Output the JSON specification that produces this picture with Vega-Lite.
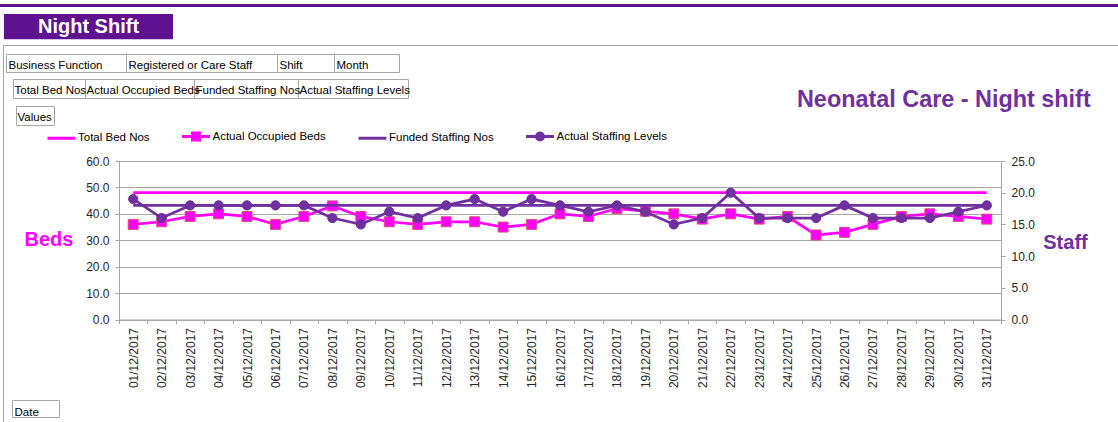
{
  "$schema": "https://vega.github.io/schema/vega-lite/v6.json",
  "autosize": {"type": "none"},
  "width": 882,
  "height": 158.5,
  "padding": {"left": 119, "top": 161, "right": 117, "bottom": 102.5},
  "background": "white",
  "config": {"view": {"stroke": null}, "font": "Liberation Sans"},
  "title": {"text": "Neonatal Care - Night shift", "anchor": "end", "frame": "group", "font": "Liberation Sans", "fontSize": 23.4, "fontWeight": "bold", "color": "#7030a0", "dx": 89.7, "dy": 141, "offset": 15, "baseline": "alphabetic"},
  "data": {"values": [
    {"date": "01/12/2017", "total": 48, "occupied": 36, "funded": 18, "actual": 19},
    {"date": "02/12/2017", "total": 48, "occupied": 37, "funded": 18, "actual": 16},
    {"date": "03/12/2017", "total": 48, "occupied": 39, "funded": 18, "actual": 18},
    {"date": "04/12/2017", "total": 48, "occupied": 40, "funded": 18, "actual": 18},
    {"date": "05/12/2017", "total": 48, "occupied": 39, "funded": 18, "actual": 18},
    {"date": "06/12/2017", "total": 48, "occupied": 36, "funded": 18, "actual": 18},
    {"date": "07/12/2017", "total": 48, "occupied": 39, "funded": 18, "actual": 18},
    {"date": "08/12/2017", "total": 48, "occupied": 43, "funded": 18, "actual": 16},
    {"date": "09/12/2017", "total": 48, "occupied": 39, "funded": 18, "actual": 15},
    {"date": "10/12/2017", "total": 48, "occupied": 37, "funded": 18, "actual": 17},
    {"date": "11/12/2017", "total": 48, "occupied": 36, "funded": 18, "actual": 16},
    {"date": "12/12/2017", "total": 48, "occupied": 37, "funded": 18, "actual": 18},
    {"date": "13/12/2017", "total": 48, "occupied": 37, "funded": 18, "actual": 19},
    {"date": "14/12/2017", "total": 48, "occupied": 35, "funded": 18, "actual": 17},
    {"date": "15/12/2017", "total": 48, "occupied": 36, "funded": 18, "actual": 19},
    {"date": "16/12/2017", "total": 48, "occupied": 40, "funded": 18, "actual": 18},
    {"date": "17/12/2017", "total": 48, "occupied": 39, "funded": 18, "actual": 17},
    {"date": "18/12/2017", "total": 48, "occupied": 42, "funded": 18, "actual": 18},
    {"date": "19/12/2017", "total": 48, "occupied": 41, "funded": 18, "actual": 17},
    {"date": "20/12/2017", "total": 48, "occupied": 40, "funded": 18, "actual": 15},
    {"date": "21/12/2017", "total": 48, "occupied": 38, "funded": 18, "actual": 16},
    {"date": "22/12/2017", "total": 48, "occupied": 40, "funded": 18, "actual": 20},
    {"date": "23/12/2017", "total": 48, "occupied": 38, "funded": 18, "actual": 16},
    {"date": "24/12/2017", "total": 48, "occupied": 39, "funded": 18, "actual": 16},
    {"date": "25/12/2017", "total": 48, "occupied": 32, "funded": 18, "actual": 16},
    {"date": "26/12/2017", "total": 48, "occupied": 33, "funded": 18, "actual": 18},
    {"date": "27/12/2017", "total": 48, "occupied": 36, "funded": 18, "actual": 16},
    {"date": "28/12/2017", "total": 48, "occupied": 39, "funded": 18, "actual": 16},
    {"date": "29/12/2017", "total": 48, "occupied": 40, "funded": 18, "actual": 16},
    {"date": "30/12/2017", "total": 48, "occupied": 39, "funded": 18, "actual": 17},
    {"date": "31/12/2017", "total": 48, "occupied": 38, "funded": 18, "actual": 18}
  ]},
  "layer": [
    {"data": {"values": [{}]}, "mark": {"type": "rect", "fill": "#5f1290"}, "encoding": {"x": {"value": -119}, "x2": {"value": 999}, "y": {"value": -157}, "y2": {"value": -154}}},
    {"data": {"values": [{}]}, "mark": {"type": "rect", "fillOpacity": 0, "stroke": "#a6a6a6", "strokeWidth": 1}, "encoding": {"x": {"value": -115.5}, "x2": {"value": 1010}, "y": {"value": -115.5}, "y2": {"value": 290}}},
    {"data": {"values": [{}]}, "mark": {"type": "rect", "fill": "#5f1290"}, "encoding": {"x": {"value": -115}, "x2": {"value": 54}, "y": {"value": -147}, "y2": {"value": -121.7}}},
    {"data": {"values": [{}]}, "mark": {"type": "text", "text": "Night Shift", "align": "center", "baseline": "alphabetic", "fontSize": 20, "fontWeight": "bold", "color": "#ffffff"}, "encoding": {"x": {"value": -30.5}, "y": {"value": -127.7}}},

    {"data": {"values": [{}]}, "mark": {"type": "rect", "fill": "#ffffff", "stroke": "#a6a6a6", "strokeWidth": 1}, "encoding": {"x": {"value": -112.5}, "x2": {"value": 7.5}, "y": {"value": -106.5}, "y2": {"value": -88.5}}},
    {"data": {"values": [{}]}, "mark": {"type": "rect", "fill": "#ffffff", "stroke": "#a6a6a6", "strokeWidth": 1}, "encoding": {"x": {"value": 7.5}, "x2": {"value": 158.5}, "y": {"value": -106.5}, "y2": {"value": -88.5}}},
    {"data": {"values": [{}]}, "mark": {"type": "rect", "fill": "#ffffff", "stroke": "#a6a6a6", "strokeWidth": 1}, "encoding": {"x": {"value": 158.5}, "x2": {"value": 215.5}, "y": {"value": -106.5}, "y2": {"value": -88.5}}},
    {"data": {"values": [{}]}, "mark": {"type": "rect", "fill": "#ffffff", "stroke": "#a6a6a6", "strokeWidth": 1}, "encoding": {"x": {"value": 215.5}, "x2": {"value": 280.5}, "y": {"value": -106.5}, "y2": {"value": -88.5}}},
    {"data": {"values": [{}]}, "mark": {"type": "text", "text": "Business Function", "align": "left", "baseline": "alphabetic", "fontSize": 11.5, "color": "#000000"}, "encoding": {"x": {"value": -110.5}, "y": {"value": -92}}},
    {"data": {"values": [{}]}, "mark": {"type": "text", "text": "Registered or Care Staff", "align": "left", "baseline": "alphabetic", "fontSize": 11.5, "color": "#000000"}, "encoding": {"x": {"value": 9.5}, "y": {"value": -92}}},
    {"data": {"values": [{}]}, "mark": {"type": "text", "text": "Shift", "align": "left", "baseline": "alphabetic", "fontSize": 11.5, "color": "#000000"}, "encoding": {"x": {"value": 160.5}, "y": {"value": -92}}},
    {"data": {"values": [{}]}, "mark": {"type": "text", "text": "Month", "align": "left", "baseline": "alphabetic", "fontSize": 11.5, "color": "#000000"}, "encoding": {"x": {"value": 217.5}, "y": {"value": -92}}},

    {"data": {"values": [{}]}, "mark": {"type": "rect", "fill": "#ffffff", "stroke": "#a6a6a6", "strokeWidth": 1}, "encoding": {"x": {"value": -105.5}, "x2": {"value": -33.5}, "y": {"value": -81.5}, "y2": {"value": -62.5}}},
    {"data": {"values": [{}]}, "mark": {"type": "rect", "fill": "#ffffff", "stroke": "#a6a6a6", "strokeWidth": 1}, "encoding": {"x": {"value": -33.5}, "x2": {"value": 75.5}, "y": {"value": -81.5}, "y2": {"value": -62.5}}},
    {"data": {"values": [{}]}, "mark": {"type": "rect", "fill": "#ffffff", "stroke": "#a6a6a6", "strokeWidth": 1}, "encoding": {"x": {"value": 75.5}, "x2": {"value": 179.5}, "y": {"value": -81.5}, "y2": {"value": -62.5}}},
    {"data": {"values": [{}]}, "mark": {"type": "rect", "fill": "#ffffff", "stroke": "#a6a6a6", "strokeWidth": 1}, "encoding": {"x": {"value": 179.5}, "x2": {"value": 289.5}, "y": {"value": -81.5}, "y2": {"value": -62.5}}},
    {"data": {"values": [{}]}, "mark": {"type": "text", "text": "Total Bed Nos", "align": "left", "baseline": "alphabetic", "fontSize": 11.5, "color": "#000000"}, "encoding": {"x": {"value": -104.5}, "y": {"value": -66.7}}},
    {"data": {"values": [{}]}, "mark": {"type": "text", "text": "Actual Occupied Beds", "align": "left", "baseline": "alphabetic", "fontSize": 11.5, "color": "#000000"}, "encoding": {"x": {"value": -32.5}, "y": {"value": -66.7}}},
    {"data": {"values": [{}]}, "mark": {"type": "text", "text": "Funded Staffing Nos", "align": "left", "baseline": "alphabetic", "fontSize": 11.5, "color": "#000000"}, "encoding": {"x": {"value": 76.5}, "y": {"value": -66.7}}},
    {"data": {"values": [{}]}, "mark": {"type": "text", "text": "Actual Staffing Levels", "align": "left", "baseline": "alphabetic", "fontSize": 11.5, "color": "#000000"}, "encoding": {"x": {"value": 180.5}, "y": {"value": -66.7}}},

    {"data": {"values": [{}]}, "mark": {"type": "rect", "fill": "#ffffff", "stroke": "#a6a6a6", "strokeWidth": 1}, "encoding": {"x": {"value": -102.5}, "x2": {"value": -64.5}, "y": {"value": -54.5}, "y2": {"value": -35.5}}},
    {"data": {"values": [{}]}, "mark": {"type": "text", "text": "Values", "align": "left", "baseline": "alphabetic", "fontSize": 11.5, "color": "#000000"}, "encoding": {"x": {"value": -101.5}, "y": {"value": -40.3}}},
    {"data": {"values": [{}]}, "mark": {"type": "rect", "fillOpacity": 0, "stroke": "#a6a6a6", "strokeWidth": 1}, "encoding": {"x": {"value": -106.5}, "x2": {"value": -59.5}, "y": {"value": 239.5}, "y2": {"value": 256.5}}},

    {"mark": {"type": "line", "strokeWidth": 2.75},
     "encoding": {
       "x": {"field": "date", "type": "ordinal", "sort": null, "scale": {"type": "band", "paddingInner": 0, "paddingOuter": 0},
         "axis": {"title": "Date", "titleX": -105, "titleY": 95.5, "titleAlign": "left", "titleAngle": 0, "titleBaseline": "alphabetic", "titleFontSize": 11.5, "titleFontWeight": "normal", "titleColor": "#000000",
           "labelAngle": 270, "labelAlign": "right", "labelBaseline": "middle", "labelFontSize": 12, "labelColor": "#262626", "labelPadding": 4, "labelOverlap": false, "labelFlush": false,
           "tickBand": "extent", "tickSize": 4, "tickColor": "#a6a6a6", "domainColor": "#a6a6a6", "grid": false, "zindex": 1}},
       "y": {"field": "total", "type": "quantitative", "title": "Beds", "scale": {"domain": [0, 60], "nice": false},
         "axis": {"orient": "left", "values": {"signal": "[0, 10, 20, 30, 40, 50, 60]"}, "format": ".1f", "grid": true, "gridColor": "#a6a6a6", "domainColor": "#a6a6a6", "tickColor": "#a6a6a6", "tickSize": 4, "labelPadding": 6, "labelFontSize": 12, "labelColor": "#262626", "labelOverlap": false,
           "titleAngle": 0, "titleX": -70.5, "titleY": 84, "titleAlign": "center", "titleBaseline": "alphabetic", "titleColor": "#ff00ff", "titleFontSize": 20, "titleFontWeight": "bold"}},
       "color": {"datum": "Total Bed Nos", "type": "nominal",
         "scale": {"domain": ["Total Bed Nos", "Actual Occupied Beds", "Funded Staffing Nos", "Actual Staffing Levels"], "range": ["#ff00ff", "#ff00ff", "#7030a0", "#7030a0"]},
         "legend": {"orient": "none", "legendX": -73, "legendY": -40, "direction": "horizontal", "title": null, "padding": 0, "symbolSize": 784, "labelFontSize": 11.5, "labelColor": "#000000", "labelOffset": 1, "columnPadding": 25.5, "symbolStrokeWidth": 3,
           "encode": {"symbols": {"update": {
             "shape": {"signal": "datum.value === 'Actual Occupied Beds' ? 'M-1,0H1M-0.25,-0.25H0.25V0.25H-0.25Z' : datum.value === 'Actual Staffing Levels' ? 'M-1,0H1M-0.25,0A0.25,0.25,0,1,1,0.25,0A0.25,0.25,0,1,1,-0.25,0Z' : 'M-1,0H1'"},
             "fill": {"scale": "color", "field": "value"},
             "stroke": {"scale": "color", "field": "value"},
             "strokeWidth": {"value": 3},
             "opacity": {"value": 1}}}}}}
     }},
    {"mark": {"type": "line", "strokeWidth": 2.75},
     "encoding": {
       "x": {"field": "date", "type": "ordinal", "sort": null},
       "y": {"field": "occupied", "type": "quantitative", "scale": {"domain": [0, 60], "nice": false}, "axis": null},
       "color": {"datum": "Actual Occupied Beds", "type": "nominal"}
     }},
    {"mark": {"type": "point", "shape": "square", "filled": true, "size": 100, "fill": "#ff00ff", "stroke": "#d9507a", "strokeWidth": 1, "opacity": 1},
     "encoding": {
       "x": {"field": "date", "type": "ordinal", "sort": null},
       "y": {"field": "occupied", "type": "quantitative", "scale": {"domain": [0, 60], "nice": false}, "axis": null}
     }},
    {"mark": {"type": "line", "strokeWidth": 2.75},
     "encoding": {
       "x": {"field": "date", "type": "ordinal", "sort": null},
       "y": {"field": "funded", "type": "quantitative", "title": "Staff", "scale": {"domain": [0, 25], "nice": false},
         "axis": {"orient": "right", "values": {"signal": "[0, 5, 10, 15, 20, 25]"}, "format": ".1f", "grid": false, "domainColor": "#a6a6a6", "tickColor": "#a6a6a6", "tickSize": 4, "labelPadding": 6, "labelFontSize": 12, "labelColor": "#262626", "labelOverlap": false,
           "titleAngle": 0, "titleX": 64, "titleY": 87, "titleAlign": "center", "titleBaseline": "alphabetic", "titleColor": "#7030a0", "titleFontSize": 20, "titleFontWeight": "bold"}},
       "color": {"datum": "Funded Staffing Nos", "type": "nominal"}
     }},
    {"mark": {"type": "line", "strokeWidth": 2.75},
     "encoding": {
       "x": {"field": "date", "type": "ordinal", "sort": null},
       "y": {"field": "actual", "type": "quantitative", "scale": {"domain": [0, 25], "nice": false}, "axis": null},
       "color": {"datum": "Actual Staffing Levels", "type": "nominal"}
     }},
    {"mark": {"type": "point", "shape": "circle", "filled": true, "size": 85, "fill": "#7030a0", "stroke": "#6a2c9a", "strokeWidth": 1, "opacity": 1},
     "encoding": {
       "x": {"field": "date", "type": "ordinal", "sort": null},
       "y": {"field": "actual", "type": "quantitative", "scale": {"domain": [0, 25], "nice": false}, "axis": null}
     }}
  ],
  "resolve": {"scale": {"y": "independent"}}
}
